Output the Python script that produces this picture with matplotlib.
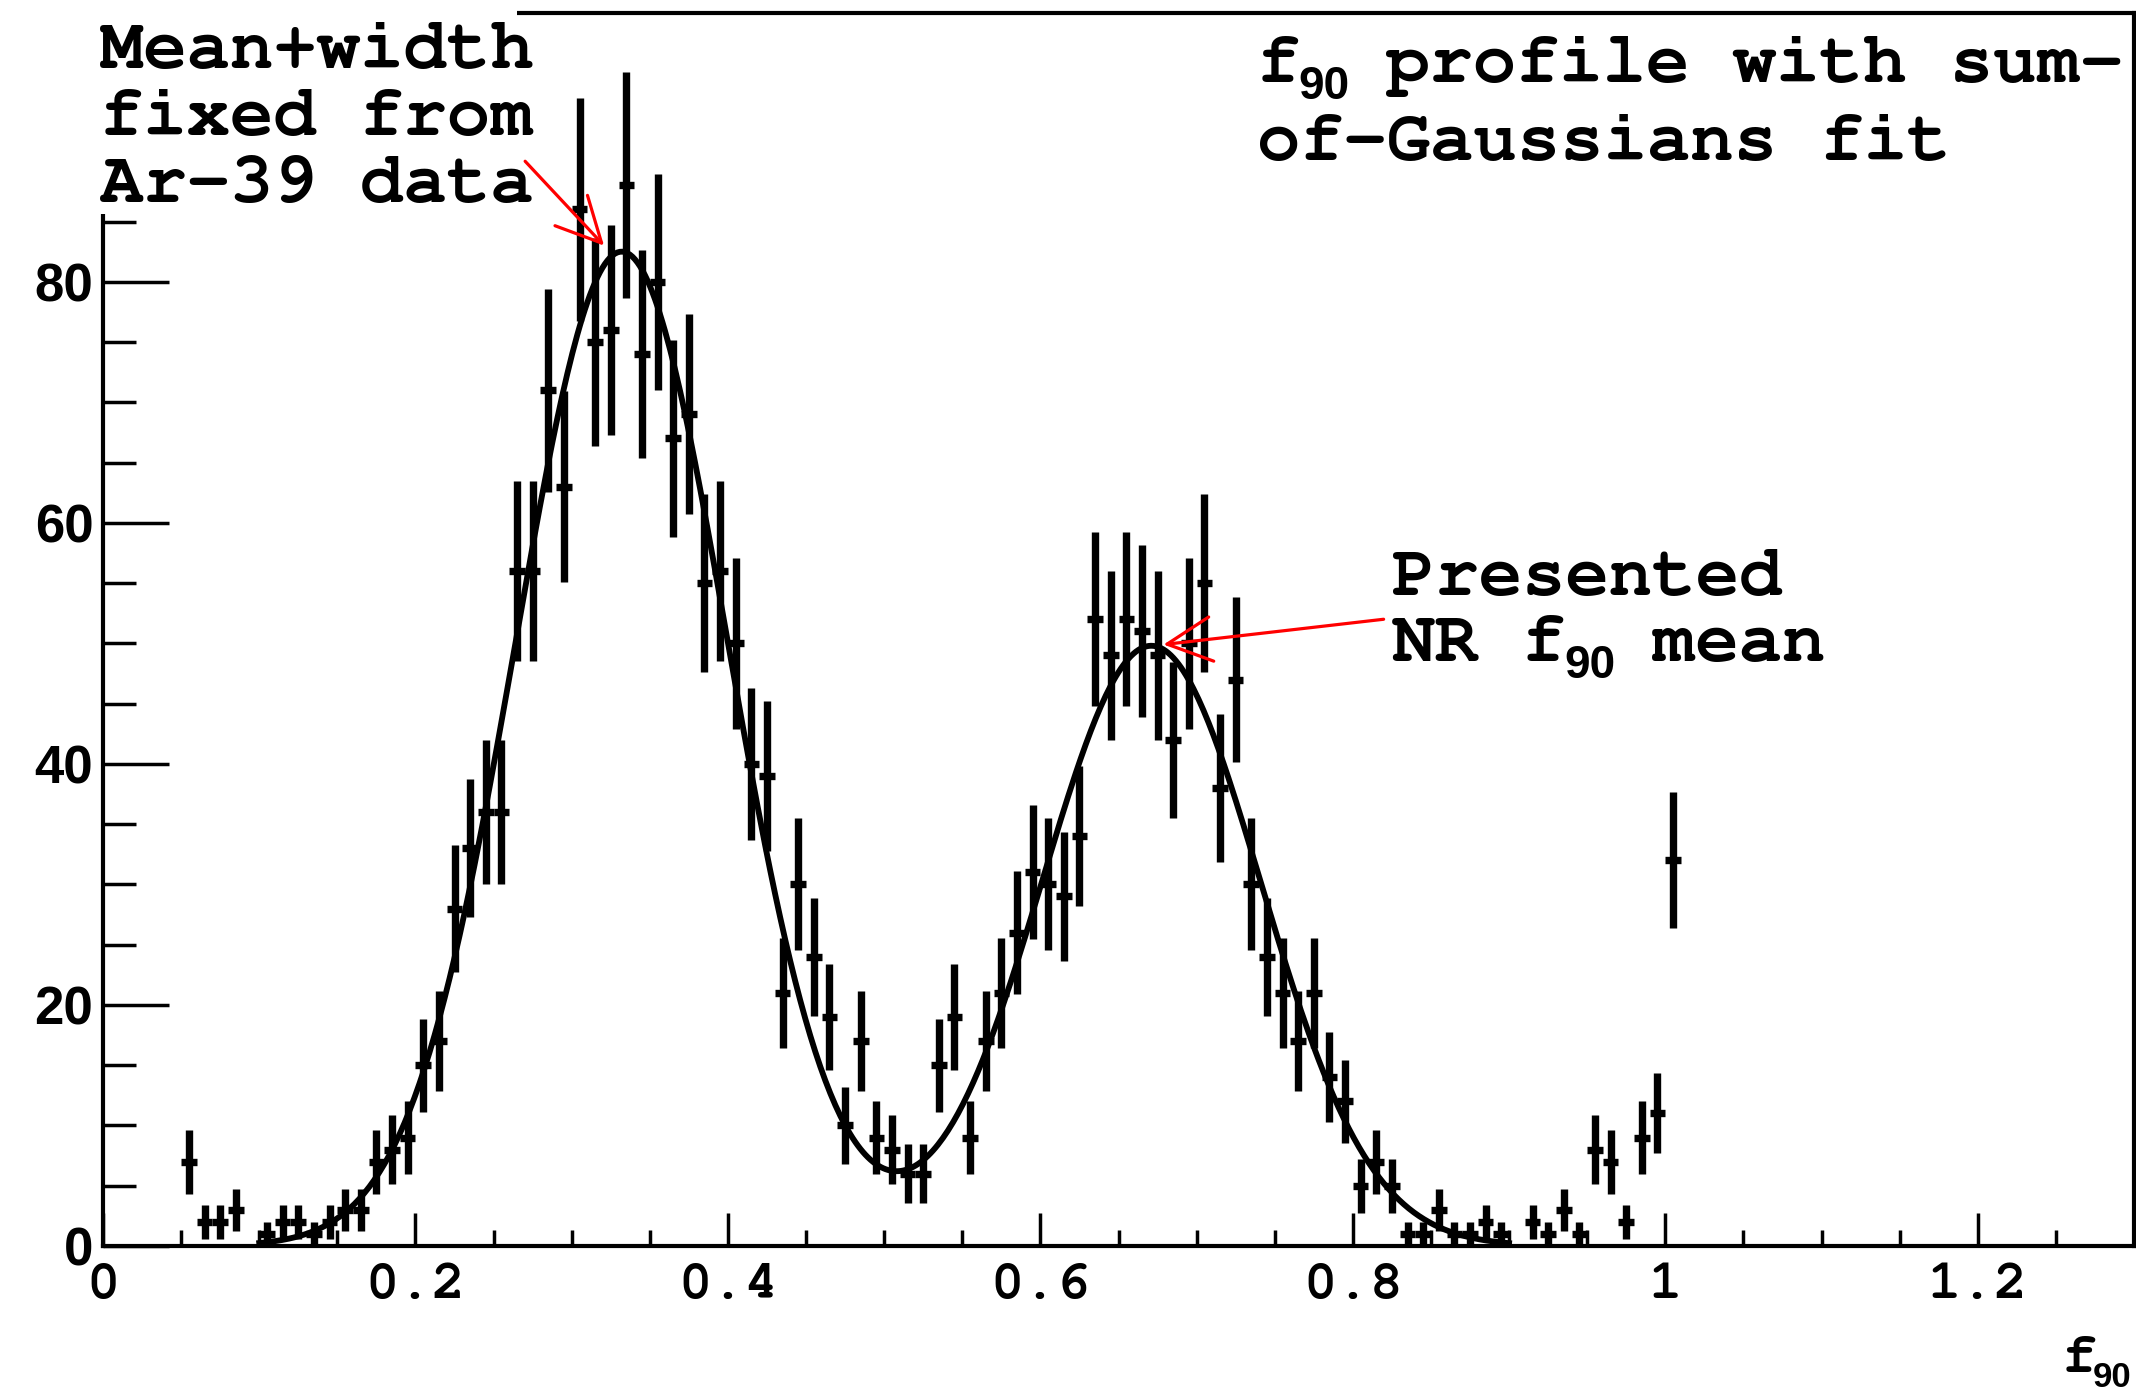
import numpy as np
import matplotlib
matplotlib.use('Agg')
import matplotlib.pyplot as plt
from matplotlib.patches import Rectangle
from matplotlib.ticker import MultipleLocator

# f90 histogram, 0.01 wide bins starting at 0.05 (counts)
bin_lo = 0.05
bin_width = 0.01
counts = [7, 2, 2, 3, 0, 1, 2, 2, 1, 2,
          3, 3, 7, 8, 9, 15, 17, 28, 33, 36,
          36, 56, 56, 71, 63, 86, 75, 76, 88, 74,
          80, 67, 69, 55, 56, 50, 40, 39, 21, 30,
          24, 19, 10, 17, 9, 8, 6, 6, 15, 19,
          9, 17, 21, 26, 31, 30, 29, 34, 52, 49,
          52, 51, 49, 42, 50, 55, 38, 47, 30, 24,
          21, 17, 21, 14, 12, 5, 7, 5, 1, 1,
          3, 1, 1, 2, 1, 0, 2, 1, 3, 1,
          8, 7, 2, 9, 11, 32]

# sum-of-Gaussians fit, parameters
fit_amp = [82.5, 49.8]
fit_mean = [0.332, 0.671]
fit_sigma = [0.068, 0.070]
fit_range = (0.10, 0.90)

xticks = [0, 0.2, 0.4, 0.6, 0.8, 1.0, 1.2]
xtick_labels = ['0', '0.2', '0.4', '0.6', '0.8', '1', '1.2']
yticks = [0, 20, 40, 60, 80]

W, H = 2136, 1391
mono = ['Nimbus Mono PS', 'Courier New', 'FreeMono', 'Liberation Mono']
sans = ['Liberation Sans', 'DejaVu Sans']


def px(x, y):
    # pixel position (from top-left) -> figure fraction
    return x / W, 1 - y / H


fig = plt.figure(figsize=(W / 100, H / 100), dpi=100)
ax = fig.add_axes([103 / W, 145 / H, 2031 / W, 1233 / H])

counts = np.array(counts, dtype=float)
centers = bin_lo + bin_width * (np.arange(len(counts)) + 0.5)
keep = counts > 0
eb = ax.errorbar(centers[keep], counts[keep], xerr=bin_width / 2,
                 yerr=np.sqrt(counts[keep]), fmt='none', ecolor='black',
                 elinewidth=5.3, capsize=0, zorder=2)
for c in eb[2]:
    c.set_capstyle('butt')

xf = np.linspace(fit_range[0], fit_range[1], 500)
yf = np.zeros_like(xf)
for a, m, s in zip(fit_amp, fit_mean, fit_sigma):
    yf += a * np.exp(-0.5 * ((xf - m) / s) ** 2)
ax.plot(xf, yf, color='black', lw=4.2, zorder=3)

ax.set_xlim(0, 1.3)
ax.set_ylim(0, 102.3)
ax.set_xticks(xticks)
ax.set_xticklabels(xtick_labels, fontfamily=mono, fontweight='bold', fontsize=40)
ax.set_yticks(yticks)
ax.set_yticklabels([str(v) for v in yticks], fontfamily=sans, fontweight='bold', fontsize=38)
ax.xaxis.set_minor_locator(MultipleLocator(0.05))
ax.yaxis.set_minor_locator(MultipleLocator(5))
ax.tick_params(axis='x', which='major', direction='in', length=23.8, width=2.5, pad=12)
ax.tick_params(axis='x', which='minor', direction='in', length=11.5, width=2.5)
ax.tick_params(axis='y', which='major', direction='in', length=47.5, width=2.5, pad=7)
ax.tick_params(axis='y', which='minor', direction='in', length=23.8, width=2.5)
for sp in ax.spines.values():
    sp.set_linewidth(3)

# red arrows
arrow = dict(arrowstyle='->', color='red', lw=2.3, mutation_scale=80,
             shrinkA=0, shrinkB=0)
ax.annotate('', xy=(0.3207, 83.0), xytext=(0.2702, 90.0), arrowprops=arrow, zorder=4)
ax.annotate('', xy=(0.6788, 49.9), xytext=(0.8197, 52.0), arrowprops=arrow, zorder=4)

# white pad behind the top-left note, hides the frame there
fig.add_artist(Rectangle(px(0, 214), 517 / W, 214 / H, transform=fig.transFigure,
                         facecolor='white', edgecolor='none', zorder=4))

tkw = dict(fontfamily=mono, fontweight='bold', fontsize=52, va='baseline', zorder=5)
skw = dict(fontfamily=sans, fontweight='bold', fontsize=33, va='baseline', zorder=5)
for txt, y in [('Mean+width', 68), ('fixed from', 135), ('Ar-39 data', 202)]:
    fig.text(*px(100, y), txt, **tkw)

# title, f with a sans "90" subscript
fig.text(*px(1257, 82), 'f', **tkw)
fig.text(*px(1298, 99), '90', **skw)
fig.text(*px(1386, 82), 'profile with sum-', **tkw)
fig.text(*px(1257, 160), 'of-Gaussians fit', **tkw)

fig.text(*px(1392, 595), 'Presented', **tkw)
fig.text(*px(1392, 661), 'NR f', **tkw)
fig.text(*px(1564, 678), '90', **skw)
fig.text(*px(1652, 661), 'mean', **tkw)

# x axis title
fig.text(*px(2062, 1372), 'f', fontfamily=mono, fontweight='bold', fontsize=42,
         va='baseline', zorder=5)
fig.text(*px(2093, 1387), '90', fontfamily=sans, fontweight='bold', fontsize=25,
         va='baseline', zorder=5)

fig.savefig('out.png', dpi=100)
